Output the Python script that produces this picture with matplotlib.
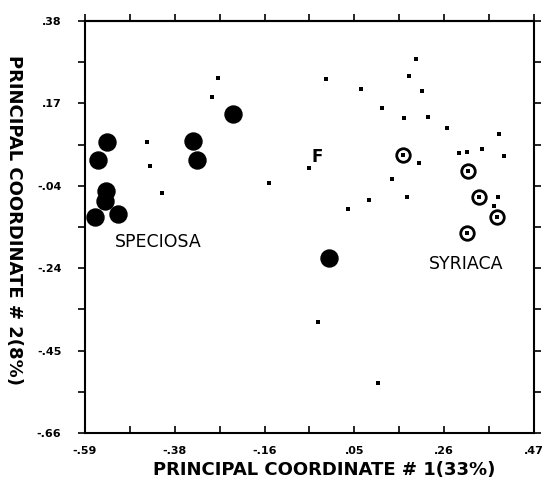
import matplotlib
matplotlib.use("Agg")
import matplotlib.pyplot as plt
import numpy as np

# Speciosa (large filled circles)
speciosa_x = [-0.538, -0.559, -0.540, -0.543, -0.566, -0.512, -0.335, -0.326, -0.241, -0.014]
speciosa_y = [0.075, 0.029, -0.049, -0.074, -0.115, -0.107, 0.077, 0.029, 0.145, -0.218]

# Syriaca (open circles with centre dot)
syriaca_x = [0.161, 0.314, 0.340, 0.383, 0.312]
syriaca_y = [0.042, 0.001, -0.064, -0.115, -0.155]

# Other specimens (small points)
small_x = [-0.276, -0.290, -0.444, -0.437, -0.408, -0.156, 0.191, -0.021, 0.175, 0.062,
           0.206, 0.111, 0.163, 0.220, 0.265, 0.387, 0.293, 0.312, 0.347, 0.399,
           0.199, -0.061, 0.135, 0.385, 0.376, 0.170, 0.081, 0.031, -0.040, 0.102]
small_y = [0.236, 0.188, 0.075, 0.014, -0.054, -0.029, 0.284, 0.234, 0.241, 0.208,
           0.203, 0.160, 0.135, 0.138, 0.110, 0.095, 0.047, 0.049, 0.057, 0.039,
           0.022, 0.009, -0.019, -0.064, -0.087, -0.064, -0.072, -0.095, -0.380, -0.534]

x_ticklabels = ["-.59", "-.38", "-.16", ".05", ".26", ".47"]
y_ticklabels = [".38", ".17", "-.04", "-.24", "-.45", "-.66"]

xmin, xmax = -0.59, 0.47
ymin, ymax = -0.66, 0.38

fig = plt.figure(figsize=(5.45, 4.92), dpi=100)
ax = fig.add_axes([85/545, 59/492, 449/545, 412/492])

ax.scatter(small_x, small_y, s=11, marker='s', color='black', zorder=3, linewidths=0)
ax.scatter(speciosa_x, speciosa_y, s=150, marker='o', color='black', zorder=3)
ax.scatter(syriaca_x, syriaca_y, s=95, marker='o', facecolors='white', edgecolors='black',
           linewidths=2.0, zorder=3)
ax.scatter(syriaca_x, syriaca_y, s=8, marker='s', color='black', zorder=4, linewidths=0)

ax.set_xlim(xmin, xmax)
ax.set_ylim(ymin, ymax)

xt = np.linspace(xmin, xmax, 6)
yt = np.linspace(ymax, ymin, 6)
ax.set_xticks(xt)
ax.set_xticklabels(x_ticklabels)
ax.set_yticks(yt)
ax.set_yticklabels(y_ticklabels)
ax.set_xticks(np.linspace(xmin, xmax, 11), minor=True)
ax.set_yticks(np.linspace(ymin, ymax, 11), minor=True)

for lab in ax.get_xticklabels() + ax.get_yticklabels():
    lab.set_fontsize(8)
    lab.set_fontweight('bold')

ax.tick_params(axis='x', which='both', direction='in', length=5, width=1.2, pad=9)
ax.tick_params(axis='y', which='both', direction='out', length=5, width=1.2,
               left=True, right=True, pad=12)
sec = ax.secondary_xaxis('top')
sec.set_xticks(np.linspace(xmin, xmax, 11))
sec.tick_params(direction='out', length=5, width=1.2, labeltop=False)
sec.spines['top'].set_linewidth(1.5)

for sp in ax.spines.values():
    sp.set_linewidth(1.5)

ax.text(-0.418, -0.178, "SPECIOSA", fontsize=12.5, ha='center', va='center')
ax.text(0.310, -0.233, "SYRIACA", fontsize=12.5, ha='center', va='center')
ax.text(-0.042, 0.037, "F", fontsize=12, fontweight='bold', ha='center', va='center')

fig.text(0.595, 0.045, "PRINCIPAL COORDINATE # 1(33%)", fontsize=13, fontweight='bold',
         ha='center', va='center')
fig.text(0.025, 0.553, "PRINCIPAL COORDINATE # 2(8%)", fontsize=13, fontweight='bold',
         ha='center', va='center', rotation=-90)

fig.savefig("out.png", dpi=100)
